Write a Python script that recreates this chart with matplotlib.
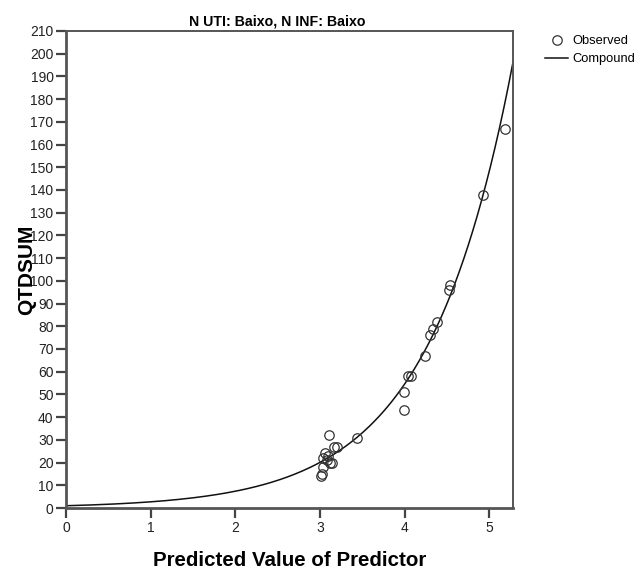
import numpy as np
import matplotlib
matplotlib.use("Agg")
import matplotlib.pyplot as plt
from matplotlib.lines import Line2D

plt.rcParams['font.family'] = ['Liberation Sans', 'DejaVu Sans']

# observed cases (predicted value of predictor vs QTDSUM)
pred_value = [3.01, 3.02, 3.03, 3.04, 3.06, 3.08, 3.09, 3.11, 3.12, 3.14,
              3.17, 3.20, 3.44, 3.99, 3.99, 4.04, 4.07, 4.24, 4.30, 4.34,
              4.38, 4.52, 4.54, 4.92, 5.19]
qtdsum = [14, 15, 22, 18, 24, 21, 23, 32, 20, 20,
          27, 27, 31, 43, 51, 58, 58, 67, 76, 79,
          82, 96, 98, 138, 167]

# compound model: y = b0 * b1 ** x
b0 = 1.0
b1 = 2.718

title = "N UTI: Baixo, N INF: Baixo"
x_ticks = [0, 1, 2, 3, 4, 5]
y_ticks = list(range(0, 211, 10))

fig = plt.figure(figsize=(6.43, 5.70), dpi=100)
ax = fig.add_axes([66 / 643, 1 - 508 / 570, (513 - 66) / 643, (508 - 31) / 570])

xx = np.linspace(0, 5.28, 300)
ax.plot(xx, b0 * b1 ** xx, color='#111111', lw=1.1, zorder=2)
ax.plot(pred_value, qtdsum, 'o', mfc='none', mec='#333333', ms=6.8, mew=0.9, zorder=3)

ax.set_xlim(0, 5.28)
ax.set_ylim(0, 210)
ax.set_xticks(x_ticks)
ax.set_yticks(y_ticks)
ax.tick_params(direction='out', length=7, width=1.6, color='#444444',
               labelsize=10, labelcolor='#222222', pad=2)

for side in ['left', 'bottom']:
    ax.spines[side].set_linewidth(2.0)
    ax.spines[side].set_color('#555555')
for side in ['top', 'right']:
    ax.spines[side].set_linewidth(1.4)
    ax.spines[side].set_color('#555555')

ax.set_xlabel("Predicted Value of Predictor", fontsize=14.8, fontweight='bold', labelpad=12)
ax.set_ylabel("QTDSUM", fontsize=15, fontweight='bold', labelpad=-4)
fig.text(277 / 643, 1 - 22 / 570, title, ha='center', va='center',
         fontsize=10.2, fontweight='bold')

handles = [
    Line2D([], [], marker='o', ls='none', mfc='none', mec='#333333', ms=6.8, mew=0.9),
    Line2D([], [], color='#111111', lw=1.1),
]
fig.legend(handles, ['Observed', 'Compound'], loc='upper left',
           bbox_to_anchor=(540 / 643, 1 - 30 / 570), frameon=False, fontsize=9.3,
           handlelength=1.8, handletextpad=0.3, labelspacing=0.45, borderaxespad=0)

fig.savefig("out.png", dpi=100)
